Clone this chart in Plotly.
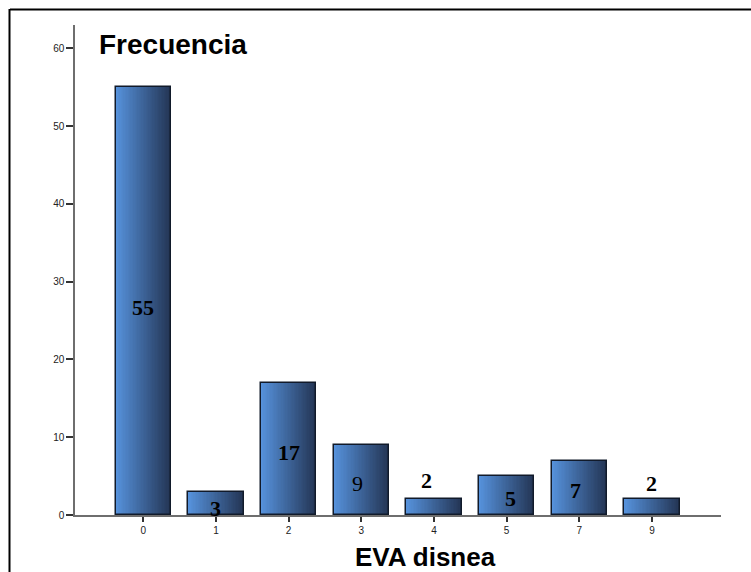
import plotly.graph_objects as go

# EVA disnea score categories and their frequencies
categories = ["0", "1", "2", "3", "4", "5", "7", "9"]
frequencies = [55, 3, 17, 9, 2, 5, 7, 2]

# vertical placement of each count label (data units)
label_y = [26.7, 0.9, 8.0, 4.1, 4.5, 2.1, 3.2, 4.1]
label_dx = [0, 0, 0, -0.05, -0.1, 0.05, -0.05, 0]
label_bold = [True, True, True, False, True, True, True, True]

BAR_W = 0.76
N_SLICES = 40
LEFT_RGB = (86, 146, 220)
RIGHT_RGB = (36, 54, 86)

fig = go.Figure()

# horizontal gradient fill: each bar is built from thin side-by-side slices
for i in range(N_SLICES):
    t = i / (N_SLICES - 1)
    r, g, b = (round(a + (c - a) * t) for a, c in zip(LEFT_RGB, RIGHT_RGB))
    fig.add_trace(go.Bar(
        x=categories, y=frequencies,
        width=BAR_W / N_SLICES + 0.002,
        offset=-BAR_W / 2 + i * BAR_W / N_SLICES,
        marker=dict(color=f"rgb({r},{g},{b})", line=dict(width=0)),
        hoverinfo="skip", showlegend=False,
    ))

# dark outline around each bar
fig.add_trace(go.Bar(
    x=categories, y=frequencies, width=BAR_W, offset=-BAR_W / 2,
    marker=dict(color="rgba(0,0,0,0)", line=dict(color="#111a2a", width=1.5)),
    showlegend=False,
))

for cat, val, ly, dx, bold in zip(categories, frequencies, label_y, label_dx, label_bold):
    txt = f"<b>{val}</b>" if bold else str(val)
    fig.add_annotation(
        x=categories.index(cat) + dx, y=ly, text=txt, showarrow=False,
        font=dict(family="Liberation Serif", size=22, color="#000000"),
        xref="x", yref="y",
    )

L, R, T, B = 75, 30, 25, 57
W, H = 751, 572
pw, ph = W - L - R, H - T - B

def px_x(px):
    return (px - L) / pw

def px_y(py):
    return (H - B - py) / ph

fig.add_annotation(
    x=px_x(97), y=px_y(44), xref="paper", yref="paper", xanchor="left", yanchor="middle",
    text="<b>Frecuencia</b>", showarrow=False,
    font=dict(family="Liberation Sans", size=28, color="#000000"),
)
fig.add_annotation(
    x=px_x(425), y=px_y(557), xref="paper", yref="paper", xanchor="center", yanchor="middle",
    text="<b>EVA disnea</b>", showarrow=False,
    font=dict(family="Liberation Sans", size=26, color="#000000"),
)

# outer frame (top and left edges)
fig.add_shape(type="line", xref="paper", yref="paper",
              x0=px_x(10), x1=px_x(W + 5), y0=px_y(9.5), y1=px_y(9.5),
              line=dict(color="#000000", width=2))
fig.add_shape(type="line", xref="paper", yref="paper",
              x0=px_x(9.5), x1=px_x(9.5), y0=px_y(9), y1=px_y(H + 5),
              line=dict(color="#000000", width=2))

fig.update_layout(
    width=W, height=H,
    margin=dict(l=L, r=R, t=T, b=B),
    paper_bgcolor="white", plot_bgcolor="white",
    barmode="overlay", bargap=0,
    xaxis=dict(
        type="category", range=[-0.94, 7.95],
        showgrid=False, zeroline=False,
        showline=True, linecolor="#6e6e6e", linewidth=1.5,
        ticks="outside", ticklen=5, tickcolor="#333333", tickwidth=1.5,
        tickfont=dict(family="Liberation Sans", size=10, color="#222222"),
    ),
    yaxis=dict(
        range=[0, 63], tickvals=[0, 10, 20, 30, 40, 50, 60],
        showgrid=False, zeroline=False,
        showline=True, linecolor="#6e6e6e", linewidth=1.5,
        ticks="outside", ticklen=7, tickcolor="#333333", tickwidth=1.5,
        tickfont=dict(family="Liberation Sans", size=10, color="#222222"),
    ),
    font=dict(family="Liberation Sans"),
)

fig.write_html("out.html")
